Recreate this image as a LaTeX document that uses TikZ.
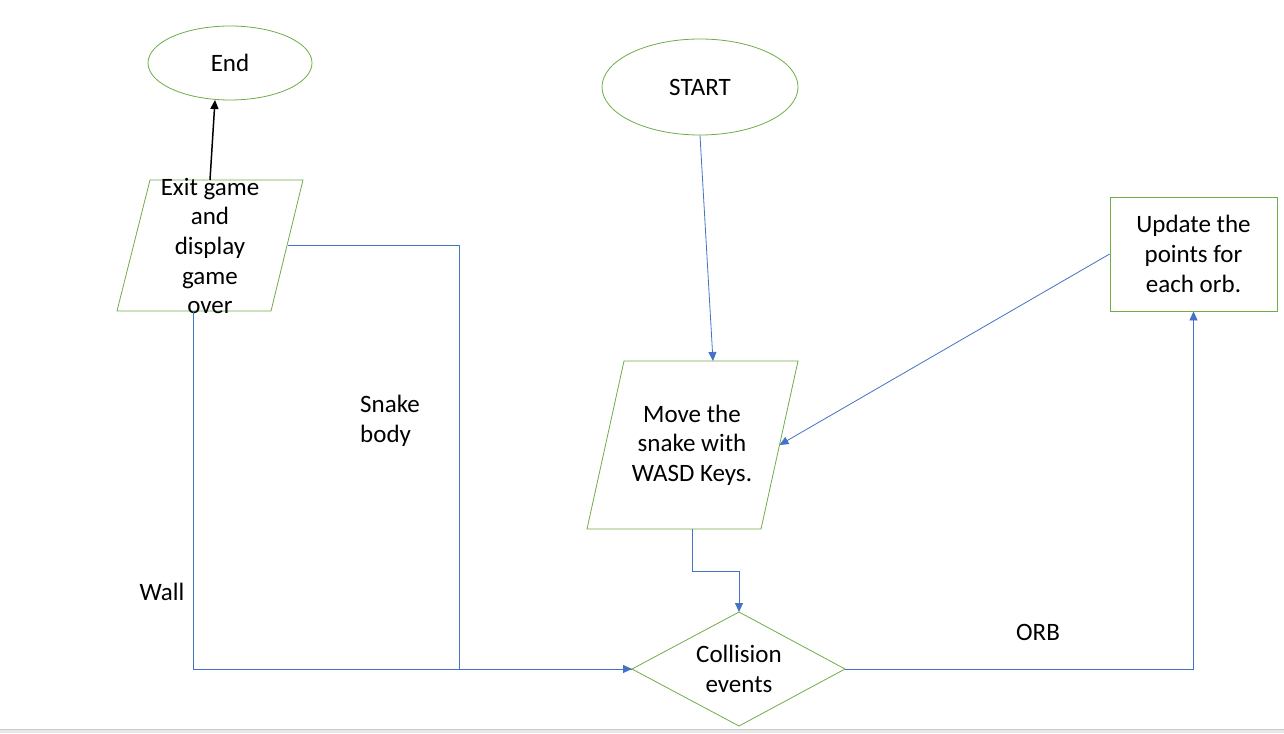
\documentclass[tikz,border=0pt]{standalone}
\usepackage{fontspec}
\setmainfont{Carlito}
\usetikzlibrary{shapes.geometric,arrows.meta}
\definecolor{ogreen}{RGB}{112,173,71}
\definecolor{oblue}{RGB}{68,114,196}
\begin{document}
\begin{tikzpicture}[x=1pt,y=-1pt,
 shapeline/.style={draw=ogreen,line width=0.8pt},
 conn/.style={draw=oblue,line width=0.8pt},
 arr/.style={-{Triangle[length=9pt,width=8pt]}},
 txt/.style={font=\fontsize{25}{29.6}\selectfont,align=center,inner sep=0pt},
 ]
\useasboundingbox (0,0) rectangle (1284,733);
\fill[white] (0,0) rectangle (1284,733);
\fill[gray!18] (0,729) rectangle (1284,733);
\draw[gray!40,line width=0.8pt] (0,729) -- (1284,729);

% terminals
\node[ellipse,shapeline,minimum width=164pt,minimum height=74pt,txt] (end) at (230,63) {End};
\node[ellipse,shapeline,minimum width=196pt,minimum height=96pt,txt] (start) at (700,87) {START};

% parallelograms
\draw[shapeline] (150,180) -- (303,180) -- (271,311) -- (117,311) -- cycle;
\node[txt] (exit) at (210,246) {Exit game\\and\\display\\game\\over};
\draw[shapeline] (624,361) -- (798,361) -- (761,529) -- (587,529) -- cycle;
\node[txt] (move) at (692,445) {Move the\\snake with\\WASD Keys.};

\coordinate (exT) at (210,180);
\coordinate (exR) at (288,245);
\coordinate (exB) at (193,311);
\coordinate (mvT) at (713,361);
\coordinate (mvR) at (779.5,445);
\coordinate (mvB) at (692,529);
\coordinate (endB) at (215,100);

% process
\node[draw=ogreen,line width=0.8pt,minimum width=167pt,minimum height=114pt,txt] (upd) at (1193.5,254) {Update the\\points for\\each orb.};

% decision
\coordinate (colN) at (739,612);
\coordinate (colW) at (632,669);
\coordinate (colS) at (739,726);
\coordinate (colE) at (845,669);
\draw[shapeline] (colN) -- (colE) -- (colS) -- (colW) -- cycle;
\node[txt] (col) at (739,669) {Collision\\events};

% connectors
\draw[black,line width=1.5pt,arr] (exT) -- (endB);
\draw[conn,arr] (start.south) -- (mvT);
\draw[conn,arr] (upd.west) -- (mvR);
\draw[conn,arr] (mvB) -- ++(0,42) -| (colN);
\draw[conn] (exB) |- (colW);
\draw[conn,arr] (exR) -- ++(171,0) |- (colW);
\draw[conn,arr] (colE) -| (upd.south);

% labels
\node[txt,align=left,anchor=west] (snake) at (360,421) {Snake\\body};
\node[txt] (wall) at (162,592) {Wall};
\node[txt] (orb) at (1038,632) {ORB};
\end{tikzpicture}
\end{document}
